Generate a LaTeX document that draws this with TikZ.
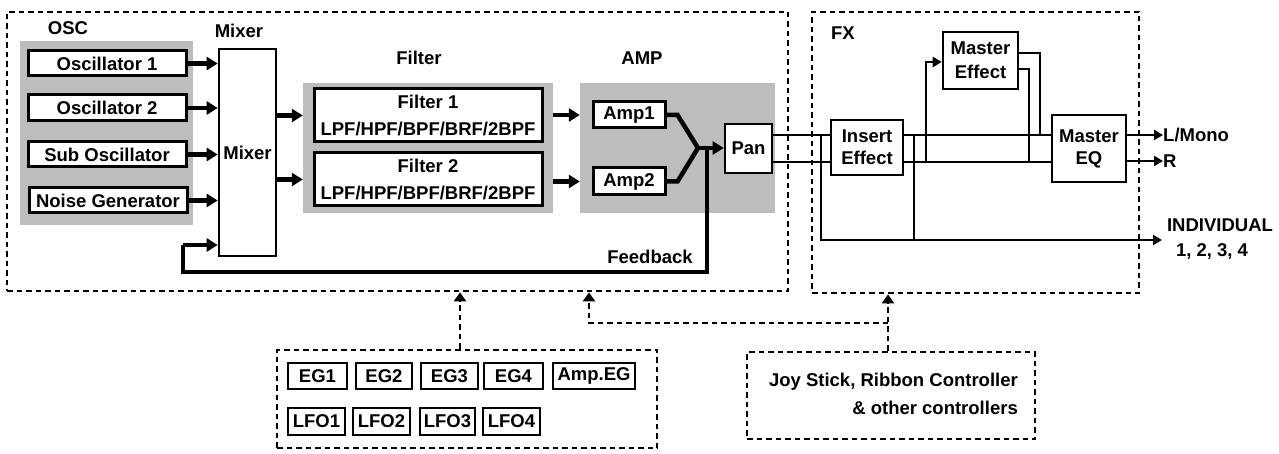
\documentclass[tikz,border=0pt]{standalone}
\usepackage{fontspec}
\setmainfont{Liberation Sans}
\usetikzlibrary{arrows.meta}
\begin{document}
\begin{tikzpicture}[x=1pt,y=-1pt,
  every node/.style={font=\fontsize{18.5}{22}\selectfont\bfseries, inner sep=0pt},
  blk/.style={draw, line width=2.6pt, fill=white, align=center},
  oscbox/.style={draw, line width=3pt, fill=white},
  panel/.style={fill=black!26, draw=none},
  dotbox/.style={draw, line width=2.7pt, dash pattern=on 5.5pt off 4pt},
  thk/.style={line width=4.5pt, -{Triangle[length=11pt,width=13pt]}},
  thkline/.style={line width=4.5pt},
  thn/.style={line width=2.6pt},
  thnarr/.style={line width=2.6pt, -{Triangle[length=9pt,width=10pt]}},
  dotarr/.style={line width=2.7pt, dash pattern=on 5.5pt off 4pt, -{Triangle[length=9pt,width=12pt]}},
  sm/.style={draw, line width=2.8pt, fill=white}
]
\useasboundingbox (0,0) rectangle (1279,454);

% dotted group boxes
\node[dotbox, minimum width=781pt, minimum height=279pt] (synth) at (397.5,151.5) {};
\node[dotbox, minimum width=327pt, minimum height=281pt] (fx) at (975.5,152.5) {};
\node[dotbox, minimum width=380pt, minimum height=98pt] (eg) at (467,399) {};
\node[dotbox, minimum width=288pt, minimum height=87pt] (ctrl) at (891,395.5) {};

% panels
\node[panel, minimum width=173pt, minimum height=184pt] (oscp) at (106.5,133) {};
\node[panel, minimum width=250pt, minimum height=130pt] (filp) at (428,148) {};
\node[panel, minimum width=195pt, minimum height=130pt] (ampp) at (677.5,148) {};

% labels
\node (losc) at (68,28) {OSC};
\node (lmix) at (239,31) {Mixer};
\node (lfil) at (419,58) {Filter};
\node (lamp) at (642,58) {AMP};
\node (lfx) at (843,33) {FX};
\node (lfb) at (650,257) {Feedback};

% OSC boxes
\node[oscbox, minimum width=158pt, minimum height=25pt] (osc1) at (107,63.5) {Oscillator 1};
\node[oscbox, minimum width=158pt, minimum height=26pt] (osc2) at (107,108) {Oscillator 2};
\node[oscbox, minimum width=158pt, minimum height=25pt] (sub) at (107,154.5) {Sub Oscillator};
\node[oscbox, minimum width=158pt, minimum height=25pt] (noise) at (108,200.5) {Noise Generator};

% mixer
\node[blk, minimum width=57pt, minimum height=207pt] (mixer) at (247.5,152.5) {Mixer};

% filters
\node[blk, line width=3pt, minimum width=228pt, minimum height=53pt, font=\fontsize{18.5}{27}\selectfont\bfseries] (fil1) at (428,115.5) {Filter 1\\LPF/HPF/BPF/BRF/2BPF};
\node[blk, line width=3pt, minimum width=228pt, minimum height=53pt, font=\fontsize{18.5}{27}\selectfont\bfseries] (fil2) at (428,179.5) {Filter 2\\LPF/HPF/BPF/BRF/2BPF};

% amps
\node[blk, line width=3pt, minimum width=72pt, minimum height=26pt] (amp1) at (629,115) {Amp1};
\node[blk, line width=3pt, minimum width=72pt, minimum height=27pt] (amp2) at (629,181.5) {Amp2};
\node[blk, minimum width=47pt, minimum height=49pt] (pan) at (748.5,148.5) {Pan};

% FX
\node[blk, minimum width=72pt, minimum height=55pt] (ins) at (867,147.5) {Insert\\Effect};
\node[blk, minimum width=75pt, minimum height=57pt, font=\fontsize{18.5}{24}\selectfont\bfseries] (mfx) at (980.5,60.5) {Master\\Effect};
\node[blk, minimum width=74pt, minimum height=67pt] (meq) at (1089,148.5) {Master\\EQ};

% output labels
\node[anchor=west] (lmono) at (1163,135) {L/Mono};
\node[anchor=west] (rout) at (1163,161) {R};
\node (indiv) at (1220,225) {INDIVIDUAL};
\node (indnum) at (1212,251) {1, 2, 3, 4};

% modulators
\node[sm, minimum width=59pt, minimum height=26pt] (eg1) at (317.5,376) {EG1};
\node[sm, minimum width=56pt, minimum height=26pt] (eg2) at (384,376) {EG2};
\node[sm, minimum width=57pt, minimum height=26pt] (eg3) at (449.5,376) {EG3};
\node[sm, minimum width=59pt, minimum height=26pt] (eg4) at (513.5,376) {EG4};
\node[sm, minimum width=82pt, minimum height=26pt] (ampeg) at (594,376) {Amp.EG};
\node[sm, minimum width=57pt, minimum height=27pt] (lfo1) at (316.5,421.5) {LFO1};
\node[sm, minimum width=57pt, minimum height=27pt] (lfo2) at (381.5,421.5) {LFO2};
\node[sm, minimum width=55pt, minimum height=27pt] (lfo3) at (447.5,421.5) {LFO3};
\node[sm, minimum width=57pt, minimum height=27pt] (lfo4) at (511.5,421.5) {LFO4};

% controllers text
\node[anchor=east, align=right, font=\fontsize{18.5}{28}\selectfont\bfseries] (ctrltxt) at (1018,394) {Joy Stick, Ribbon Controller\\\& other controllers};

% osc -> mixer
\draw[thk] (osc1.east) -- (osc1.east -| mixer.west);
\draw[thk] (osc2.east) -- (osc2.east -| mixer.west);
\draw[thk] (sub.east) -- (sub.east -| mixer.west);
\draw[thk] (noise.east) -- (noise.east -| mixer.west);

% mixer -> filters
\draw[thk] (mixer.east |- fil1) -- (filp.west |- fil1);
\draw[thk] (mixer.east |- fil2) -- (filp.west |- fil2);

% filters -> amps
\draw[thk] (filp.east |- amp1) -- (ampp.west |- amp1);
\draw[thk] (filp.east |- amp2) -- (ampp.west |- amp2);

% amp merge
\coordinate (m) at (698,148);
\draw[thkline, line join=miter] (amp1.east) -- ++(11,0) -- (m);
\draw[thkline, line join=miter] (amp2.east) -- ++(11,0) -- (m);
\draw[thk] (m) -- (pan.west |- m);

% feedback
\coordinate (fbtop) at (707,148);
\coordinate (fbbot) at (183,272);
\coordinate (fbin) at (183,245);
\draw[thkline] (fbtop) |- (fbbot) -- (fbin);
\draw[thk] (fbin) -- (mixer.west |- fbin);

% stereo lines
\coordinate (Ly) at (0,135);
\coordinate (Ry) at (0,162);
\draw[thn] (pan.east |- Ly) -- (ins.west |- Ly);
\draw[thn] (pan.east |- Ry) -- (ins.west |- Ry);
\draw[thn] (ins.east |- Ly) -- (meq.west |- Ly);
\draw[thn] (ins.east |- Ry) -- (meq.west |- Ry);

% individual taps
\coordinate (t1) at (821,135);
\coordinate (t2) at (914,135);
\coordinate (indend) at (1162,240);
\draw[thnarr] (t1) |- (indend);
\draw[thn] (t2) -- (t2 |- indend);

% master effect send / return
\coordinate (snd) at (926,162);
\draw[thnarr] (snd) |- ([yshift=-1.5pt]mfx.west);
\coordinate (r1) at (1040,135);
\coordinate (r2) at (1029,162);
\draw[thn] ([yshift=7.5pt]mfx.east) -| (r1);
\draw[thn] ([yshift=-8.5pt]mfx.east) -| (r2);

% master EQ outputs
\draw[thnarr] (meq.east |- Ly) -- (lmono.west);
\draw[thnarr] (meq.east |- rout) -- (rout.west);

% modulation connectors
\coordinate (egx) at (460,0);
\draw[dotarr] (eg.north -| egx) -- (synth.south -| egx);
\coordinate (cx) at (888,0);
\coordinate (br) at (888,323);
\coordinate (sx) at (589,0);
\draw[dotarr] (ctrl.north -| cx) -- (fx.south -| cx);
\draw[dotarr] (br) -| (synth.south -| sx);
\end{tikzpicture}
\end{document}
